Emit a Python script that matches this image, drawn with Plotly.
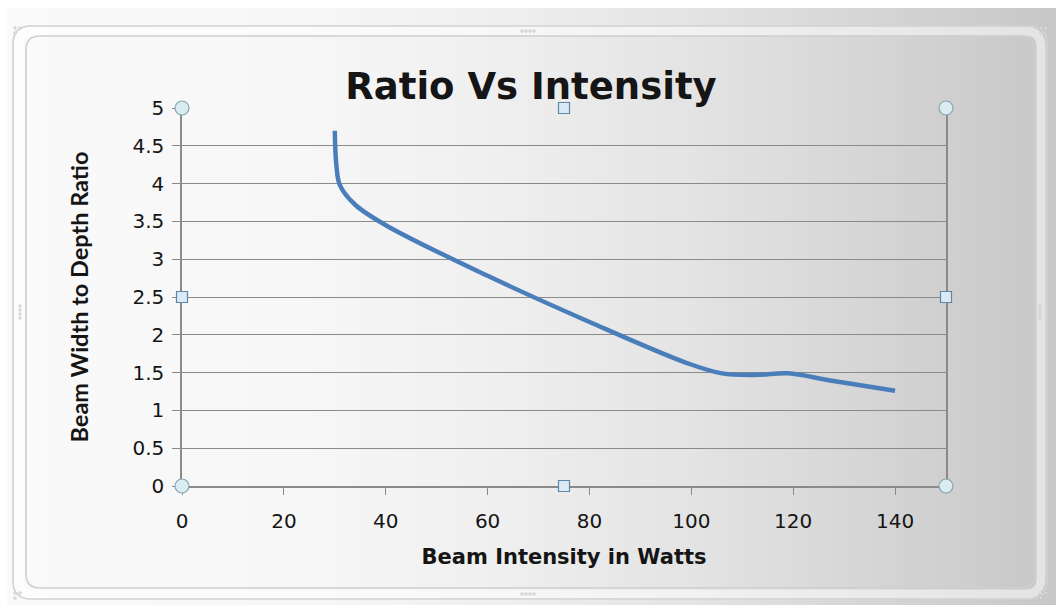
import plotly.graph_objects as go

# Beam intensity (W) vs. beam width-to-depth ratio
intensity = [30.0, 30.3, 31.0, 34.0, 40.0, 60.0, 80.0, 99.0, 106.0, 113.0, 119.0, 127.0, 140.0]
ratio = [4.70, 4.25, 3.98, 3.72, 3.45, 2.78, 2.17, 1.63, 1.49, 1.47, 1.49, 1.40, 1.26]

x_ticks = [0, 20, 40, 60, 80, 100, 120, 140]
y_ticks = [0, 0.5, 1, 1.5, 2, 2.5, 3, 3.5, 4, 4.5, 5]
y_ticktext = ["0", "0.5", "1", "1.5", "2", "2.5", "3", "3.5", "4", "4.5", "5"]
x_range = [0, 150]
y_range = [0, 5]

W, H = 1056, 613
ML, MR, MT, MB = 182, 110, 108, 127
PW, PH = W - ML - MR, H - MT - MB

WIDE = "DejaVu Sans"
NARROW = "Lato"
INK = "#151515"
GRID = "#8a8a8a"


def px(x):
    return (x - ML) / PW


def py(y):
    return (H - MB - y) / PH


def fx(v):
    return (v - x_range[0]) / (x_range[1] - x_range[0])


def fy(v):
    return (v - y_range[0]) / (y_range[1] - y_range[0])


shapes = []

# background: white on the left fading to grey on the right
stops = [(0, 250), (300, 247), (500, 239), (700, 227), (900, 211), (1056, 199)]


def grey_at(x):
    for (x0, c0), (x1, c1) in zip(stops[:-1], stops[1:]):
        if x0 <= x <= x1:
            return c0 + (c1 - c0) * (x - x0) / (x1 - x0)
    return stops[-1][1]


strip = 8
for x0 in range(7, W, strip):
    x1 = min(x0 + strip + 1, W)
    g = int(round(grey_at((x0 + x1) / 2)))
    shapes.append(dict(type="rect", xref="paper", yref="paper", layer="below",
                       x0=px(x0), x1=px(x1), y0=py(605), y1=py(8),
                       line=dict(width=0), fillcolor=f"rgb({g},{g},{g})"))


def rounded(x0, y0, x1, y1, r):
    return (f"M {px(x0 + r)},{py(y0)} L {px(x1 - r)},{py(y0)} "
            f"Q {px(x1)},{py(y0)} {px(x1)},{py(y0 + r)} "
            f"L {px(x1)},{py(y1 - r)} Q {px(x1)},{py(y1)} {px(x1 - r)},{py(y1)} "
            f"L {px(x0 + r)},{py(y1)} Q {px(x0)},{py(y1)} {px(x0)},{py(y1 - r)} "
            f"L {px(x0)},{py(y0 + r)} Q {px(x0)},{py(y0)} {px(x0 + r)},{py(y0)} Z")


# chart border frame
shapes.append(dict(type="path", xref="paper", yref="paper", layer="below",
                   path=rounded(19, 31, 1041, 594, 16),
                   line=dict(color="rgba(255,255,255,0.5)", width=9)))
shapes.append(dict(type="path", xref="paper", yref="paper", layer="below",
                   path=rounded(13, 26, 1047, 599, 18),
                   line=dict(color="rgb(210,210,210)", width=1.6)))
shapes.append(dict(type="path", xref="paper", yref="paper", layer="below",
                   path=rounded(26, 36, 1035, 588, 14),
                   line=dict(color="rgb(206,206,206)", width=1.6)))

# frame grips
grips = [(17, 30, "c"), (1043, 30, "c"), (17, 595, "c"), (1043, 595, "c"),
         (528, 31, "h"), (528, 594, "h"), (20, 312, "v"), (1040, 312, "v")]
for gx, gy, kind in grips:
    if kind == "c":
        dots = [(gx - 2, gy - 2), (gx + 3, gy - 2), (gx - 2, gy + 3)]
    elif kind == "h":
        dots = [(gx - 6 + 4 * i, gy) for i in range(4)]
    else:
        dots = [(gx, gy - 6 + 4 * i) for i in range(4)]
    for dx, dy in dots:
        shapes.append(dict(type="circle", xref="paper", yref="paper",
                           x0=px(dx - 1.3), x1=px(dx + 1.3), y0=py(dy + 1.3), y1=py(dy - 1.3),
                           line=dict(color="rgb(185,185,185)", width=0.6),
                           fillcolor="rgb(240,240,240)"))

# plot-area selection handles (corners round, edge midpoints square)
xm, ym = sum(x_range) / 2, sum(y_range) / 2
for hx, hy in [(x_range[0], y_range[0]), (x_range[1], y_range[0]),
               (x_range[0], y_range[1]), (x_range[1], y_range[1])]:
    shapes.append(dict(type="circle", xref="paper", yref="paper", xsizemode="pixel", ysizemode="pixel",
                       xanchor=fx(hx), yanchor=fy(hy), x0=-7, x1=7, y0=-7, y1=7,
                       line=dict(color="#8aa3b0", width=1.2), fillcolor="#d8ecf2"))
for hx, hy in [(xm, y_range[0]), (xm, y_range[1]), (x_range[0], ym), (x_range[1], ym)]:
    shapes.append(dict(type="rect", xref="paper", yref="paper", xsizemode="pixel", ysizemode="pixel",
                       xanchor=fx(hx), yanchor=fy(hy), x0=-5.5, x1=5.5, y0=-5.5, y1=5.5,
                       line=dict(color="#5d87a6", width=1.2), fillcolor="#dceaf5"))

fig = go.Figure()
fig.add_trace(go.Scatter(
    x=intensity, y=ratio, mode="lines",
    line=dict(color="#4a7ebb", width=4.5, shape="spline", smoothing=1.0),
    hoverinfo="x+y", showlegend=False,
))

fig.update_layout(
    width=W, height=H,
    margin=dict(l=ML, r=MR, t=MT, b=MB),
    paper_bgcolor="white",
    plot_bgcolor="rgba(0,0,0,0)",
    shapes=shapes,
    title=dict(text="<b>Ratio Vs Intensity</b>", x=531 / W, xanchor="center",
               y=1 - 86 / H, yanchor="middle", xref="container", yref="container",
               font=dict(family=WIDE, size=37, color=INK)),
    xaxis=dict(range=x_range, tickvals=x_ticks, ticks="outside", ticklen=7,
               tickcolor=GRID, tickwidth=1.3, showline=True, linecolor=GRID,
               linewidth=1.5, showgrid=False, zeroline=False,
               ticklabelstandoff=9,
               tickfont=dict(family=WIDE, size=20, color=INK),
               title=dict(text="<b>Beam Intensity in Watts</b>", standoff=18,
                          font=dict(family=WIDE, size=21, color=INK))),
    yaxis=dict(range=y_range, tickvals=y_ticks, ticktext=y_ticktext, ticks="outside",
               ticklen=8, tickcolor=GRID, tickwidth=1.3, showline=True, mirror=True,
               linecolor=GRID, linewidth=1.5, showgrid=True, gridcolor=GRID,
               gridwidth=1.3, zeroline=False, ticklabelstandoff=4,
               tickfont=dict(family=WIDE, size=20, color=INK),
               title=dict(text="<b>Beam Width to Depth Ratio</b>", standoff=37,
                          font=dict(family=NARROW, size=23.5, color=INK))),
)

fig.write_html("out.html")
